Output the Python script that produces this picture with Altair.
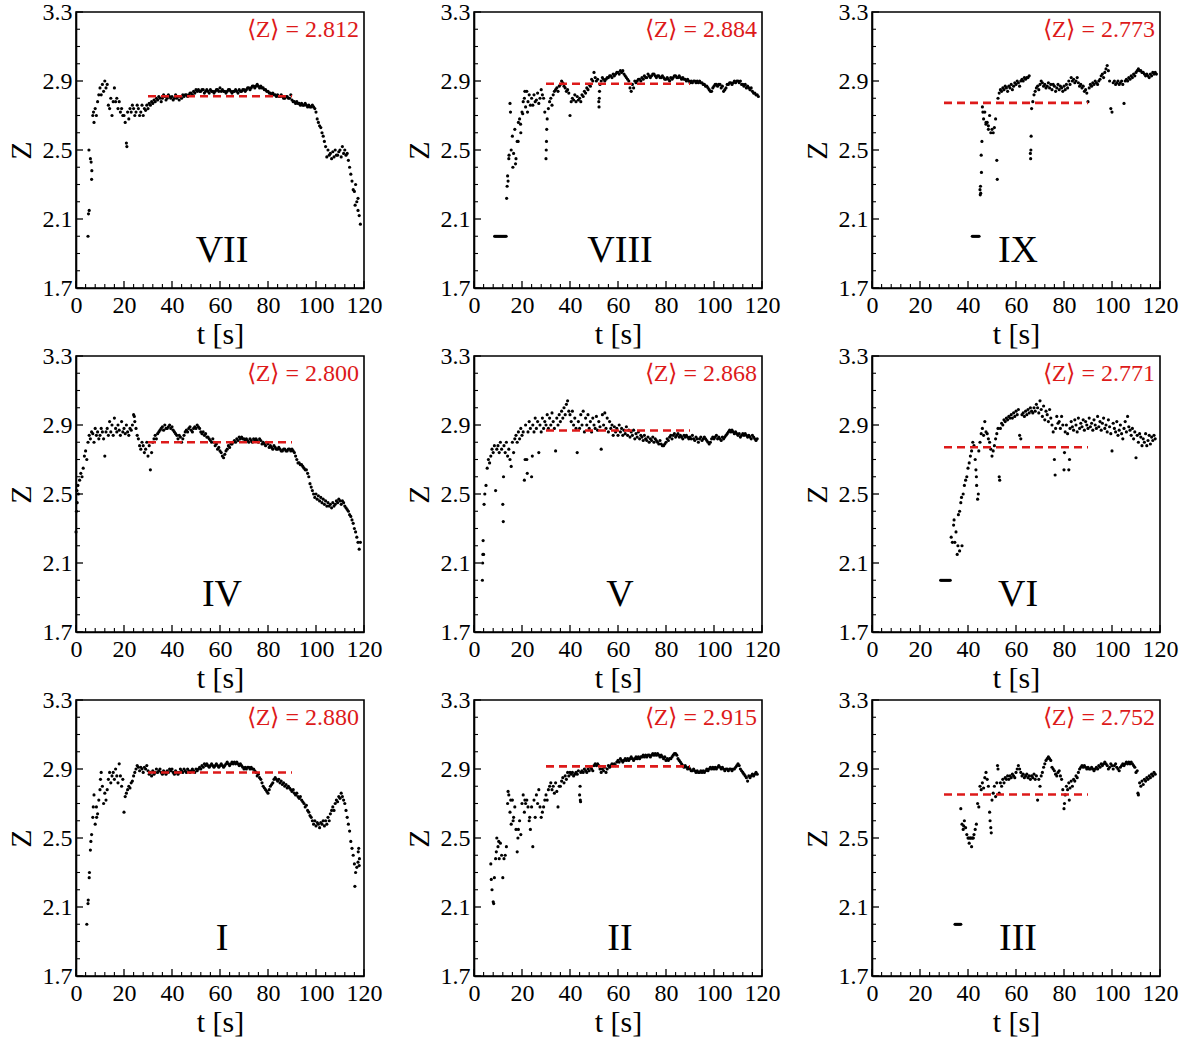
import altair as alt
import pandas as pd

FONT = "Liberation Serif"
RED = "#dd1a1a"
W, H = 288, 276

# ---------------- data ----------------
# main series: z sampled every 0.5 s starting at START[panel]
START = {"VII": 5.0, "VIII": 14.0, "IX": 45.0, "IV": 0.0, "V": 3.5,
         "VI": 33.0, "I": 4.5, "II": 7.0, "III": 37.0}
MEANS = {"VII": 2.812, "VIII": 2.884, "IX": 2.773, "IV": 2.800, "V": 2.868,
         "VI": 2.771, "I": 2.880, "II": 2.915, "III": 2.752}

z_VII = [
    2.00, 2.15, 2.45, 2.33, 2.70, 2.66, 2.74, 2.70, 2.78, 2.82,
    2.86, 2.82, 2.88, 2.84, 2.90, 2.86, 2.88, 2.76, 2.74, 2.80,
    2.70, 2.78, 2.86, 2.78, 2.80, 2.74, 2.78, 2.72, 2.74, 2.70,
    2.70, 2.66, 2.54, 2.72, 2.68, 2.74, 2.72, 2.76, 2.74, 2.70,
    2.72, 2.76, 2.74, 2.70, 2.72, 2.76, 2.70, 2.74, 2.73, 2.76,
    2.74, 2.77, 2.76, 2.78, 2.77, 2.79, 2.78, 2.80, 2.79, 2.81,
    2.80, 2.78, 2.80, 2.82, 2.81, 2.79, 2.80, 2.82, 2.81, 2.80,
    2.81, 2.79, 2.80, 2.82, 2.80, 2.81, 2.79, 2.81, 2.80, 2.82,
    2.81, 2.82, 2.82, 2.81, 2.82, 2.83, 2.83, 2.82, 2.84, 2.83,
    2.85, 2.84, 2.85, 2.84, 2.84, 2.85, 2.85, 2.83, 2.84, 2.85,
    2.84, 2.83, 2.85, 2.84, 2.84, 2.83, 2.84, 2.85, 2.85, 2.84,
    2.86, 2.84, 2.85, 2.84, 2.84, 2.83, 2.84, 2.85, 2.85, 2.84,
    2.83, 2.84, 2.84, 2.85, 2.84, 2.83, 2.85, 2.84, 2.84, 2.85,
    2.85, 2.84, 2.85, 2.86, 2.86, 2.85, 2.86, 2.87, 2.87, 2.86,
    2.87, 2.88, 2.87, 2.86, 2.87, 2.86, 2.86, 2.85, 2.85, 2.84,
    2.84, 2.83, 2.83, 2.82, 2.83, 2.82, 2.82, 2.81, 2.82, 2.81,
    2.81, 2.82, 2.81, 2.80, 2.80, 2.81, 2.81, 2.80, 2.80, 2.82,
    2.79, 2.78, 2.78, 2.77, 2.78, 2.77, 2.77, 2.76, 2.77, 2.76,
    2.76, 2.77, 2.76, 2.75, 2.76, 2.75, 2.75, 2.76, 2.75, 2.74,
    2.72, 2.68, 2.66, 2.64, 2.63, 2.60, 2.58, 2.55, 2.52, 2.46,
    2.50, 2.47, 2.48, 2.45, 2.49, 2.46, 2.50, 2.47, 2.47, 2.49,
    2.50, 2.46, 2.52, 2.48, 2.50, 2.47, 2.48, 2.44, 2.40, 2.36,
    2.32, 2.27, 2.26, 2.30, 2.20, 2.15, 2.12, 2.07,
]
z_VIII = [
    2.35, 2.45, 2.77, 2.50, 2.58, 2.48, 2.62, 2.45, 2.55, 2.66,
    2.68, 2.60, 2.72, 2.78, 2.80, 2.75, 2.84, 2.78, 2.82, 2.76,
    2.80, 2.76, 2.82, 2.78, 2.79, 2.83, 2.77, 2.80, 2.85, 2.82,
    2.80, 2.72, 2.45, 2.68, 2.74, 2.78, 2.80, 2.76, 2.82, 2.84,
    2.85, 2.86, 2.84, 2.87, 2.88, 2.90, 2.89, 2.87, 2.86, 2.84,
    2.85, 2.83, 2.70, 2.78, 2.80, 2.79, 2.82, 2.78, 2.81, 2.79,
    2.80, 2.78, 2.82, 2.81, 2.84, 2.83, 2.86, 2.85, 2.88, 2.87,
    2.91, 2.90, 2.95, 2.92, 2.90, 2.91, 2.78, 2.88, 2.90, 2.92,
    2.91, 2.90, 2.91, 2.92, 2.92, 2.93, 2.93, 2.92, 2.94, 2.93,
    2.94, 2.95, 2.95, 2.94, 2.96, 2.95, 2.96, 2.94, 2.93, 2.92,
    2.91, 2.90, 2.86, 2.84, 2.88, 2.86, 2.90, 2.89, 2.90, 2.91,
    2.91, 2.90, 2.92, 2.91, 2.93, 2.92, 2.92, 2.94, 2.93, 2.92,
    2.93, 2.94, 2.94, 2.93, 2.92, 2.93, 2.93, 2.92, 2.92, 2.93,
    2.92, 2.91, 2.91, 2.92, 2.91, 2.90, 2.92, 2.91, 2.92, 2.93,
    2.93, 2.92, 2.92, 2.93, 2.92, 2.91, 2.92, 2.91, 2.91, 2.90,
    2.91, 2.90, 2.89, 2.90, 2.89, 2.90, 2.90, 2.89, 2.90, 2.89,
    2.90, 2.89, 2.89, 2.88, 2.88, 2.87, 2.87, 2.86, 2.85, 2.84,
    2.84, 2.86, 2.87, 2.88, 2.88, 2.87, 2.88, 2.88, 2.86, 2.87,
    2.84, 2.85, 2.86, 2.88, 2.88, 2.89, 2.89, 2.88, 2.89, 2.90,
    2.89, 2.90, 2.90, 2.89, 2.90, 2.88, 2.88, 2.87, 2.88, 2.86,
    2.87, 2.86, 2.85, 2.86, 2.84, 2.83, 2.83, 2.82, 2.82, 2.81,
]
z_IX = [
    2.27, 2.47, 2.75, 2.68, 2.72, 2.65, 2.66, 2.62, 2.70, 2.60,
    2.62, 2.60, 2.63, 2.68, 2.44, 2.80, 2.83, 2.85, 2.84, 2.86,
    2.85, 2.87, 2.86, 2.84, 2.87, 2.86, 2.88, 2.85, 2.87, 2.89,
    2.88, 2.90, 2.89, 2.87, 2.90, 2.91, 2.90, 2.92, 2.91, 2.92,
    2.92, 2.93, 2.48, 2.74, 2.78, 2.82, 2.84, 2.86, 2.87, 2.85,
    2.88, 2.90, 2.89, 2.87, 2.88, 2.86, 2.87, 2.89, 2.86, 2.88,
    2.85, 2.88, 2.87, 2.84, 2.86, 2.88, 2.85, 2.87, 2.86, 2.84,
    2.87, 2.85, 2.88, 2.86, 2.90, 2.88, 2.92, 2.90, 2.91, 2.89,
    2.90, 2.92, 2.89, 2.87, 2.88, 2.86, 2.87, 2.84, 2.85, 2.83,
    2.78, 2.86, 2.88, 2.87, 2.89, 2.88, 2.90, 2.89, 2.88, 2.90,
    2.91, 2.93, 2.94, 2.92, 2.95, 2.97, 2.99, 2.96, 2.90, 2.74,
    2.72, 2.89, 2.90, 2.88, 2.89, 2.90, 2.88, 2.89, 2.90, 2.88,
    2.77, 2.90, 2.91, 2.90, 2.92, 2.91, 2.93, 2.92, 2.94, 2.93,
    2.95, 2.96, 2.97, 2.96, 2.96, 2.95, 2.95, 2.94, 2.93, 2.94,
    2.93, 2.92, 2.94, 2.93, 2.95, 2.94, 2.95, 2.94,
]
z_IV = [
    2.28, 2.45, 2.50, 2.58, 2.62, 2.60, 2.65, 2.72, 2.75, 2.70,
    2.80, 2.84, 2.82, 2.86, 2.85, 2.80, 2.88, 2.84, 2.86, 2.82,
    2.84, 2.88, 2.86, 2.82, 2.72, 2.86, 2.88, 2.84, 2.92, 2.86,
    2.90, 2.84, 2.94, 2.88, 2.86, 2.90, 2.87, 2.84, 2.92, 2.86,
    2.88, 2.85, 2.90, 2.86, 2.84, 2.88, 2.87, 2.90, 2.96, 2.92,
    2.88, 2.84, 2.82, 2.78, 2.76, 2.80, 2.78, 2.74, 2.76, 2.80,
    2.72, 2.78, 2.64, 2.74, 2.80, 2.82, 2.84, 2.82, 2.85, 2.86,
    2.87, 2.88, 2.89, 2.87, 2.90, 2.88, 2.88, 2.89, 2.90, 2.88,
    2.89, 2.87, 2.86, 2.85, 2.84, 2.82, 2.84, 2.83, 2.80, 2.82,
    2.84, 2.86, 2.87, 2.86, 2.88, 2.89, 2.87, 2.86, 2.88, 2.89,
    2.88, 2.90, 2.89, 2.88, 2.86, 2.85, 2.86, 2.84, 2.85, 2.83,
    2.83, 2.82, 2.81, 2.80, 2.82, 2.80, 2.78, 2.79, 2.76, 2.77,
    2.75, 2.74, 2.72, 2.71, 2.73, 2.75, 2.76, 2.78, 2.77, 2.79,
    2.79, 2.80, 2.81, 2.80, 2.82, 2.81, 2.83, 2.82, 2.83, 2.82,
    2.82, 2.81, 2.82, 2.81, 2.80, 2.82, 2.81, 2.80, 2.82, 2.81,
    2.82, 2.81, 2.80, 2.82, 2.81, 2.79, 2.80, 2.79, 2.78, 2.80,
    2.79, 2.77, 2.78, 2.77, 2.76, 2.78, 2.77, 2.76, 2.76, 2.77,
    2.76, 2.75, 2.75, 2.76, 2.76, 2.75, 2.75, 2.76, 2.76, 2.75,
    2.76, 2.75, 2.74, 2.72, 2.70, 2.68, 2.68, 2.67, 2.67, 2.66,
    2.65, 2.64, 2.64, 2.62, 2.60, 2.56, 2.54, 2.52, 2.50, 2.48,
    2.50, 2.47, 2.49, 2.46, 2.48, 2.45, 2.47, 2.44, 2.46, 2.43,
    2.45, 2.43, 2.44, 2.42, 2.45, 2.43, 2.44, 2.46, 2.45, 2.47,
    2.46, 2.44, 2.46, 2.45, 2.43, 2.42, 2.41, 2.40, 2.38, 2.37,
    2.35, 2.33, 2.30, 2.28, 2.25, 2.22, 2.18, 2.22,
]
z_V = [
    2.00, 2.15, 2.50, 2.55, 2.65, 2.70, 2.68, 2.72,
    2.76, 2.74, 2.78, 2.52, 2.76, 2.78, 2.74, 2.80, 2.76, 2.44,
    2.78, 2.74, 2.80, 2.72, 2.76, 2.70, 2.66, 2.80, 2.74, 2.82,
    2.84, 2.80, 2.86, 2.82, 2.88, 2.84, 2.86, 2.58, 2.90, 2.70,
    2.86, 2.92, 2.88, 2.60, 2.90, 2.86, 2.94, 2.88, 2.92, 2.74,
    2.90, 2.86, 2.94, 2.88, 2.92, 2.90, 2.96, 2.88, 2.94, 2.90,
    2.97, 2.92, 2.88, 2.75, 2.94, 2.90, 2.96, 2.92, 2.98, 2.94,
    3.00, 2.96, 3.02, 3.04, 2.98, 2.96, 2.92, 2.98, 2.90, 2.94,
    2.88, 2.74, 2.92, 2.88, 2.96, 2.90, 2.98, 2.86, 2.94, 2.90,
    2.96, 2.88, 2.92, 2.86, 2.94, 2.90, 2.88, 2.95, 2.87, 2.92,
    2.89, 2.76, 2.96, 2.90, 2.97, 2.88, 2.94, 2.86, 2.92, 2.88,
    2.90, 2.84, 2.89, 2.86, 2.88, 2.84, 2.90, 2.86, 2.88, 2.84,
    2.87, 2.85, 2.89, 2.84, 2.87, 2.83, 2.86, 2.84, 2.87, 2.82,
    2.85, 2.83, 2.86, 2.82, 2.84, 2.83, 2.81, 2.84, 2.82, 2.81,
    2.83, 2.80, 2.82, 2.81, 2.83, 2.80, 2.82, 2.81, 2.80, 2.79,
    2.81, 2.79, 2.78, 2.78, 2.79, 2.80, 2.82, 2.81, 2.83, 2.84,
    2.82, 2.84, 2.85, 2.83, 2.84, 2.85, 2.83, 2.84, 2.83, 2.82,
    2.84, 2.83, 2.84, 2.83, 2.82, 2.83, 2.82, 2.84, 2.82, 2.81,
    2.83, 2.82, 2.80, 2.82, 2.83, 2.81, 2.82, 2.83, 2.82, 2.81,
    2.80, 2.79, 2.80, 2.82, 2.83, 2.82, 2.83, 2.84, 2.82, 2.83,
    2.82, 2.81, 2.83, 2.82, 2.83, 2.84, 2.85, 2.86, 2.87, 2.86,
    2.87, 2.86, 2.85, 2.86, 2.85, 2.84, 2.85, 2.83, 2.84, 2.85,
    2.84, 2.85, 2.84, 2.83, 2.84, 2.83, 2.82, 2.84, 2.83, 2.82,
    2.81, 2.82,
]
z_VI = [
    2.25, 2.22, 2.32, 2.22, 2.28, 2.15, 2.38, 2.17, 2.45, 2.20,
    2.50, 2.55, 2.58, 2.60, 2.65, 2.68, 2.72, 2.75, 2.80, 2.78,
    2.70, 2.60, 2.47, 2.75, 2.80, 2.85, 2.88, 2.84, 2.92, 2.86,
    2.85, 2.82, 2.80, 2.76, 2.72, 2.75, 2.78, 2.82, 2.85, 2.88,
    2.60, 2.88, 2.91, 2.90, 2.93, 2.92, 2.94, 2.93, 2.95, 2.94,
    2.96, 2.94, 2.97, 2.95, 2.98, 2.96, 2.99, 2.84, 2.82, 2.96,
    2.97, 2.95, 2.98, 2.96, 2.99, 2.97, 3.00, 2.98, 2.97, 3.00,
    2.98, 3.02, 3.00, 2.97, 3.04, 2.99, 2.95, 3.01, 2.93, 2.98,
    2.96, 2.92, 2.99, 2.94, 2.90, 2.86, 2.70, 2.88, 2.95, 2.91,
    2.92, 2.88, 2.95, 2.90, 2.64, 2.86, 2.90, 2.85, 2.64, 2.88,
    2.92, 2.89, 2.87, 2.93, 2.90, 2.86, 2.94, 2.88, 2.91, 2.89,
    2.93, 2.87, 2.92, 2.90, 2.88, 2.94, 2.89, 2.91, 2.87, 2.93,
    2.90, 2.88, 2.95, 2.89, 2.92, 2.87, 2.91, 2.94, 2.88, 2.90,
    2.86, 2.93, 2.89, 2.85, 2.75, 2.91, 2.88, 2.86, 2.92, 2.84,
    2.87, 2.90, 2.85, 2.82, 2.88, 2.92, 2.86, 2.95, 2.89, 2.87,
    2.84, 2.88, 2.82, 2.86, 2.71, 2.84, 2.80, 2.85, 2.83, 2.78,
    2.82, 2.80, 2.85, 2.78, 2.81, 2.84, 2.79, 2.83, 2.81, 2.84,
    2.82,
]
z_I = [
    2.00, 2.12, 2.27, 2.43, 2.52, 2.62, 2.75, 2.58, 2.68, 2.64,
    2.72, 2.78, 2.88, 2.80, 2.70, 2.76, 2.72, 2.78, 2.84, 2.88,
    2.82, 2.86, 2.88, 2.84, 2.90, 2.86, 2.82, 2.93, 2.86, 2.80,
    2.84, 2.65, 2.74, 2.76, 2.78, 2.80, 2.79, 2.82, 2.83, 2.86,
    2.88, 2.90, 2.92, 2.91, 2.89, 2.91, 2.90, 2.88, 2.91, 2.90,
    2.92, 2.89, 2.87, 2.88, 2.86, 2.89, 2.87, 2.88, 2.90, 2.88,
    2.89, 2.90, 2.88, 2.87, 2.89, 2.88, 2.87, 2.89, 2.88, 2.90,
    2.89, 2.90, 2.88, 2.87, 2.89, 2.88, 2.87, 2.88, 2.90, 2.89,
    2.88, 2.90, 2.89, 2.88, 2.90, 2.89, 2.88, 2.89, 2.90, 2.89,
    2.88, 2.90, 2.89, 2.90, 2.91, 2.90, 2.92, 2.91, 2.93, 2.92,
    2.93, 2.92, 2.91, 2.92, 2.93, 2.92, 2.91, 2.92, 2.93, 2.92,
    2.91, 2.92, 2.93, 2.92, 2.91, 2.92, 2.93, 2.94, 2.93, 2.92,
    2.93, 2.94, 2.93, 2.94, 2.93, 2.94, 2.93, 2.92, 2.93, 2.92,
    2.91, 2.90, 2.91, 2.90, 2.91, 2.91, 2.90, 2.91, 2.90, 2.90,
    2.89, 2.88, 2.86, 2.87, 2.85, 2.84, 2.82, 2.80, 2.79, 2.78,
    2.77, 2.76, 2.78, 2.80, 2.81, 2.82, 2.84, 2.85, 2.84, 2.83,
    2.84, 2.82, 2.83, 2.81, 2.82, 2.80, 2.81, 2.79, 2.80, 2.79,
    2.78, 2.77, 2.78, 2.76, 2.75, 2.76, 2.74, 2.73, 2.74, 2.72,
    2.71, 2.70, 2.68, 2.69, 2.66, 2.65, 2.63, 2.62, 2.60, 2.58,
    2.60, 2.57, 2.59, 2.58, 2.56, 2.59, 2.58, 2.60, 2.57, 2.60,
    2.58, 2.62, 2.60, 2.64, 2.66, 2.68, 2.66, 2.70, 2.72, 2.71,
    2.74, 2.73, 2.76, 2.74, 2.72, 2.70, 2.66, 2.62, 2.58, 2.54,
    2.48, 2.44, 2.40, 2.35, 2.30, 2.33, 2.36, 2.34,
]
z_II = [
    2.35, 2.20, 2.13, 2.27, 2.38, 2.50, 2.45, 2.38, 2.47, 2.40,
    2.27, 2.38, 2.40, 2.45, 2.70, 2.75, 2.65, 2.58, 2.72, 2.62,
    2.68, 2.55, 2.42, 2.55, 2.60, 2.52, 2.70, 2.75, 2.65, 2.70,
    2.72, 2.68, 2.60, 2.55, 2.68, 2.45, 2.72, 2.62, 2.75, 2.70,
    2.78, 2.68, 2.62, 2.65, 2.68, 2.72, 2.75, 2.72, 2.78, 2.80,
    2.82, 2.78, 2.80, 2.76, 2.82, 2.77, 2.68, 2.80, 2.80, 2.83,
    2.85, 2.82, 2.86, 2.84, 2.88, 2.86, 2.88, 2.87, 2.88, 2.86,
    2.87, 2.88, 2.87, 2.89, 2.75, 2.88, 2.89, 2.88, 2.90, 2.89,
    2.88, 2.90, 2.89, 2.91, 2.90, 2.89, 2.92, 2.93, 2.92, 2.93,
    2.92, 2.90, 2.88, 2.90, 2.89, 2.91, 2.88, 2.90, 2.92, 2.91,
    2.92, 2.93, 2.92, 2.93, 2.92, 2.94, 2.95, 2.94, 2.96, 2.95,
    2.94, 2.95, 2.96, 2.95, 2.96, 2.95, 2.96, 2.97, 2.96, 2.95,
    2.96, 2.97, 2.96, 2.97, 2.96, 2.97, 2.97, 2.98, 2.97, 2.98,
    2.97, 2.98, 2.98, 2.97, 2.98, 2.99, 2.98, 2.99, 2.98, 2.99,
    2.98, 2.97, 2.98, 2.97, 2.96, 2.97, 2.95, 2.96, 2.95, 2.96,
    2.96, 2.97, 2.98, 2.99, 2.99, 2.98, 2.96, 2.95, 2.94, 2.93,
    2.92, 2.91, 2.92, 2.91, 2.90, 2.91, 2.90, 2.89, 2.89, 2.90,
    2.89, 2.88, 2.89, 2.88, 2.88, 2.89, 2.88, 2.89, 2.88, 2.89,
    2.90, 2.89, 2.90, 2.91, 2.90, 2.91, 2.90, 2.91, 2.90, 2.91,
    2.92, 2.91, 2.90, 2.91, 2.90, 2.89, 2.90, 2.90, 2.89, 2.90,
    2.90, 2.89, 2.90, 2.90, 2.91, 2.92, 2.93, 2.92, 2.90, 2.89,
    2.88, 2.87, 2.86, 2.85, 2.83, 2.86, 2.85, 2.86, 2.87, 2.86,
    2.87, 2.88, 2.87,
]
z_III = [
    2.67, 2.58, 2.55, 2.60, 2.56, 2.52, 2.50, 2.47, 2.50, 2.45,
    2.50, 2.52, 2.55, 2.58, 2.70, 2.68, 2.80, 2.78, 2.82, 2.79,
    2.85, 2.88, 2.84, 2.80, 2.65, 2.56, 2.72, 2.76, 2.80, 2.74,
    2.82, 2.90, 2.76, 2.82, 2.80, 2.84, 2.82, 2.85, 2.84, 2.86,
    2.84, 2.86, 2.85, 2.87, 2.86, 2.85, 2.88, 2.90, 2.92, 2.90,
    2.88, 2.86, 2.87, 2.85, 2.86, 2.87, 2.85, 2.86, 2.84, 2.86,
    2.85, 2.87, 2.84, 2.86, 2.72, 2.84, 2.80, 2.86, 2.88, 2.91,
    2.93, 2.95, 2.96, 2.97, 2.96, 2.95, 2.91, 2.90, 2.89, 2.87,
    2.86, 2.88, 2.89, 2.86, 2.84, 2.78, 2.67, 2.75, 2.80, 2.78,
    2.82, 2.79, 2.83, 2.80, 2.84, 2.83, 2.86, 2.85, 2.88, 2.90,
    2.91, 2.92, 2.91, 2.92, 2.91, 2.90, 2.91, 2.90, 2.90, 2.91,
    2.90, 2.89, 2.90, 2.91, 2.90, 2.92, 2.91, 2.93, 2.92, 2.93,
    2.94, 2.93, 2.92, 2.90, 2.91, 2.93, 2.92, 2.90, 2.92, 2.93,
    2.91, 2.90, 2.89, 2.91, 2.92, 2.93, 2.92, 2.93, 2.94, 2.93,
    2.94, 2.93, 2.94, 2.93, 2.92, 2.91, 2.88, 2.89, 2.75, 2.82,
    2.80, 2.83, 2.81, 2.84, 2.83, 2.85, 2.84, 2.86, 2.85, 2.87,
    2.86, 2.88, 2.87,
]
Z_MAIN = {"VII": z_VII, "VIII": z_VIII, "IX": z_IX, "IV": z_IV, "V": z_V,
          "VI": z_VI, "I": z_I, "II": z_II, "III": z_III}

# extra scattered points (vertical streaks, outliers, the Z = 2.0 start runs)
EXTRA_T = {
    "VII": [5.2, 5.4, 6.3, 6.6, 7.3, 21.2, 116.3, 117.5],
    "VIII": [8.6, 9.0, 9.4, 9.8, 10.2, 10.6, 11.0, 11.4, 11.8, 12.2, 12.6, 13.0, 13.4,
             13.6, 13.8, 14.2, 14.6, 15.2, 16.2, 17.3, 18.4, 19.4, 20.3, 21.2, 22.3,
             30.1, 30.2, 30.3, 52.1, 52.2, 52.3],
    "IX": [41.8, 42.2, 42.6, 43.0, 43.4, 43.8, 44.2, 44.6,
           45.1, 45.2, 45.3, 45.6, 45.8, 46.2, 47.5, 48.5, 52.2, 66.1, 66.2, 66.3],
    "IV": [0.2, 0.4, 0.8, 24.3],
    "V": [3.6, 3.7, 3.8, 4.2, 12.2, 12.3, 21.3, 22.2, 24.3],
    "VI": [28.6, 29.0, 29.4, 29.8, 30.2, 30.6, 31.0, 31.4, 31.8, 32.2, 32.6,
           34.2, 35.8, 36.5, 37.3, 43.3, 43.6, 44.3, 53.2, 76.3, 80.2, 82.3],
    "I": [5.1, 5.6, 6.2, 7.2, 8.6, 10.2, 116.2, 117.6, 117.8, 118.1],
    "II": [7.2, 8.2, 9.3, 10.3, 14.2, 15.3, 16.3, 18.3, 21.2, 23.2, 44.2, 44.3, 44.4],
    "III": [34.6, 35.0, 35.4, 35.8, 36.2, 36.6, 37.0,
            38.2, 40.2, 40.7, 41.2, 41.7, 42.2, 49.2, 49.7, 52.3, 80.2, 82.2, 110.8],
}
EXTRA_Z = {
    "VII": [2.13, 2.50, 2.43, 2.38, 2.72, 2.52, 2.18, 2.22],
    "VIII": [2.00] * 13 + [2.22, 2.29, 2.32, 2.47, 2.72, 2.40, 2.42, 2.55, 2.65, 2.71,
                           2.84, 2.72, 2.50, 2.55, 2.62, 2.75, 2.80, 2.84],
    "IX": [2.00] * 8 + [2.24, 2.29, 2.25, 2.37, 2.55, 2.72, 2.66, 2.64, 2.33, 2.45, 2.50, 2.58],
    "IV": [2.40, 2.52, 2.55, 2.95],
    "V": [2.10, 2.15, 2.23, 2.44, 2.34, 2.60, 2.70, 2.62, 2.72],
    "VI": [2.00] * 11 + [2.35, 2.20, 2.40, 2.48, 2.64, 2.55, 2.50, 2.58, 2.61, 2.74, 2.70],
    "I": [2.14, 2.30, 2.48, 2.68, 2.62, 2.84, 2.22, 2.42, 2.44, 2.38],
    "II": [2.26, 2.12, 2.42, 2.48, 2.77, 2.72, 2.60, 2.50, 2.72, 2.62, 2.80, 2.72, 2.71],
    "III": [2.00] * 7 + [2.57, 2.50, 2.50, 2.50, 2.50, 2.50, 2.60, 2.53, 2.92, 2.70, 2.72, 2.76],
}

ORDER = ["VII", "VIII", "IX", "IV", "V", "VI", "I", "II", "III"]

X_MAJOR = [0, 20, 40, 60, 80, 100, 120]
X_MINOR = [4, 8, 12, 16, 24, 28, 32, 36, 44, 48, 52, 56, 64, 68, 72, 76,
           84, 88, 92, 96, 104, 108, 112, 116]
Y_MAJOR = [1.7, 2.1, 2.5, 2.9, 3.3]
Y_MINOR = [1.8, 1.9, 2.0, 2.2, 2.3, 2.4, 2.6, 2.7, 2.8, 3.0, 3.1, 3.2]

# ---------------- chart ----------------
XS = alt.Scale(domain=[0, 120], nice=False, zero=False)
YS = alt.Scale(domain=[1.7, 3.3], nice=False, zero=False)
XAX = alt.Axis(values=X_MAJOR, ticks=False, tickSize=0, grid=False, format="d",
               labelFont=FONT, labelFontSize=24, labelColor="black", labelPadding=5,
               labelOverlap=False, labelFlush=False, title="t [s]", titleFont=FONT,
               titleFontSize=30, titleFontWeight="normal", titleColor="black",
               titlePadding=2, domainColor="black", domainWidth=1.6)
YAX = alt.Axis(values=Y_MAJOR, ticks=False, tickSize=0, grid=False, format=".1f",
               labelFont=FONT, labelFontSize=24, labelColor="black", labelPadding=4,
               labelOverlap=False, labelFlush=False, title="Z", titleFont=FONT,
               titleFontSize=30, titleFontWeight="normal", titleColor="black",
               titlePadding=6, domainColor="black", domainWidth=1.6)


def X(field="t"):
    return alt.X(f"{field}:Q", scale=XS, axis=XAX)


def Y(field="z"):
    return alt.Y(f"{field}:Q", scale=YS, axis=YAX)


def panel(name):
    z_main = Z_MAIN[name]
    t_main = [START[name] + 0.5 * i for i in range(len(z_main))]
    df = pd.DataFrame({"t": t_main + EXTRA_T[name], "z": z_main + EXTRA_Z[name]})
    pts = alt.Chart(df).mark_circle(size=10, color="black", opacity=1).encode(x=X(), y=Y())

    mean_df = pd.DataFrame({"t": [30], "t2": [90], "z": [MEANS[name]]})
    mean_rule = alt.Chart(mean_df).mark_rule(color=RED, strokeDash=[8, 5], strokeWidth=2.6).encode(
        x=X(), x2="t2:Q", y=Y())

    xmaj = alt.Chart(pd.DataFrame({"t": X_MAJOR})).mark_rule(color="black", strokeWidth=1.3).encode(
        x=X(), y=alt.value(H), y2=alt.value(H - 7))
    xmin = alt.Chart(pd.DataFrame({"t": X_MINOR})).mark_rule(color="black", strokeWidth=1.1).encode(
        x=X(), y=alt.value(H), y2=alt.value(H - 4))
    ymaj = alt.Chart(pd.DataFrame({"z": Y_MAJOR})).mark_rule(color="black", strokeWidth=1.3).encode(
        y=Y(), x=alt.value(0), x2=alt.value(7))
    ymin = alt.Chart(pd.DataFrame({"z": Y_MINOR})).mark_rule(color="black", strokeWidth=1.1).encode(
        y=Y(), x=alt.value(0), x2=alt.value(4))

    ann = alt.Chart(pd.DataFrame({"s": [f"\u27e8Z\u27e9 = {MEANS[name]:.3f}"]})).mark_text(
        align="right", baseline="alphabetic", font=FONT, fontSize=24, color=RED).encode(
        x=alt.value(W - 5), y=alt.value(25), text="s:N")
    roman = alt.Chart(pd.DataFrame({"s": [name]})).mark_text(
        align="center", baseline="alphabetic", font=FONT, fontSize=38, color="black").encode(
        x=alt.value(W / 2 + 2), y=alt.value(250), text="s:N")

    return alt.layer(pts, mean_rule, xmaj, xmin, ymaj, ymin, ann, roman).properties(width=W, height=H)


chart = alt.concat(*[panel(n) for n in ORDER], columns=3,
                   spacing=alt.RowColnumber(row=68, column=110), bounds="flush").configure_view(
    stroke="black", strokeWidth=1.6).properties(
    padding={"left": 5, "top": -1, "right": 5, "bottom": 2}, background="white")

chart.save("out.html", embed_options={"renderer": "svg", "actions": False})
